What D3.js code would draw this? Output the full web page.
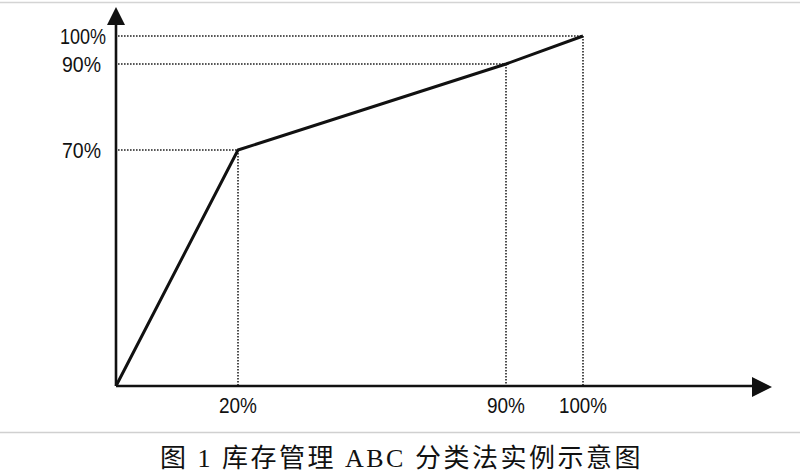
<!DOCTYPE html>
<html><head><meta charset="utf-8">
<script src="https://cdn.jsdelivr.net/npm/d3@7"></script>
<style>body{margin:0;background:#fff}svg{display:block}</style>
</head><body>
<svg id="c" width="800" height="476"></svg>
<script>
// data (percent)
const xValues = [0, 20, 90, 100];   // cumulative share of items
const yValues = [0, 70, 90, 100];   // cumulative share of value
const xTickLabels = ["20%", "90%", "100%"];
const yTickLabels = ["70%", "90%", "100%"];
const caption = "图 1 库存管理 ABC 分类法实例示意图";

const svg = d3.select("#c");
// schematic (non-uniform) axes: piecewise linear scales
const x = d3.scaleLinear().domain(xValues).range([116, 238, 506, 583]);
const y = d3.scaleLinear().domain(yValues).range([386, 150, 64, 36]);

// light frame rules
svg.append("line").attr("x1",0).attr("x2",800).attr("y1",2.5).attr("y2",2.5).attr("stroke","#d4d4d4").attr("stroke-width",1.5);
svg.append("line").attr("x1",0).attr("x2",800).attr("y1",432.5).attr("y2",432.5).attr("stroke","#d0d0d0").attr("stroke-width",1.5);

const pts = xValues.map((v,i)=>[v, yValues[i]]);
const inner = pts.slice(1);

// dotted guides
const g = svg.append("g").attr("stroke","#222").attr("stroke-width",1.6).attr("stroke-dasharray","1.6,1.4").attr("fill","none");
g.selectAll("line.h").data(inner).join("line").attr("class","h")
  .attr("x1", x(0)+2).attr("x2", d=>x(d[0])).attr("y1", d=>y(d[1])).attr("y2", d=>y(d[1]));
g.selectAll("line.v").data(inner).join("line").attr("class","v")
  .attr("x1", d=>x(d[0])).attr("x2", d=>x(d[0])).attr("y1", d=>y(d[1])).attr("y2", y(0));

// axes
const ax = svg.append("g").attr("stroke","#111").attr("stroke-width",2.6);
ax.append("line").attr("x1", x(0)).attr("x2", 755).attr("y1", y(0)).attr("y2", y(0));
ax.append("line").attr("x1", x(0)).attr("x2", x(0)).attr("y1", y(0)).attr("y2", 22);
svg.append("path").attr("d", `M${x(0)},7 L${x(0)-9},25 L${x(0)+9},25 Z`).attr("fill","#111");
svg.append("path").attr("d", `M772,${y(0)+1} L752,${y(0)-9} L752,${y(0)+11} Z`).attr("fill","#111");

// curve
svg.append("path").datum(pts)
  .attr("d", d3.line().x(d=>x(d[0])).y(d=>y(d[1])))
  .attr("fill","none").attr("stroke","#111").attr("stroke-width",3).attr("stroke-linejoin","round");

// tick labels
const font = "'Liberation Sans', 'DejaVu Sans', sans-serif";
svg.selectAll("text.xl").data(inner).join("text").attr("class","xl")
  .attr("x", d=>x(d[0])).attr("y", 413).attr("text-anchor","middle")
  .attr("font-family", font).attr("font-size", 22).attr("fill","#111")
  .attr("textLength", (d,i)=> xTickLabels[i].length===4 ? 48 : 38).attr("lengthAdjust","spacingAndGlyphs")
  .text((d,i)=>xTickLabels[i]);
svg.selectAll("text.yl").data(inner).join("text").attr("class","yl")
  .attr("x", (d,i)=> yTickLabels[i].length===4 ? 60 : 62).attr("y", d=>y(d[1])+8)
  .attr("font-family", font).attr("font-size", 22).attr("fill","#111")
  .attr("textLength", (d,i)=> yTickLabels[i].length===4 ? 46 : 39).attr("lengthAdjust","spacingAndGlyphs")
  .text((d,i)=>yTickLabels[i]);

// caption
svg.append("text").attr("x", 160).attr("y", 467)
  .attr("font-family", "'Liberation Serif', 'Noto Sans CJK SC', serif").attr("font-size", 26).attr("fill","#111")
  .attr("letter-spacing", 2.5)
  .text(caption);
</script>
</body></html>
